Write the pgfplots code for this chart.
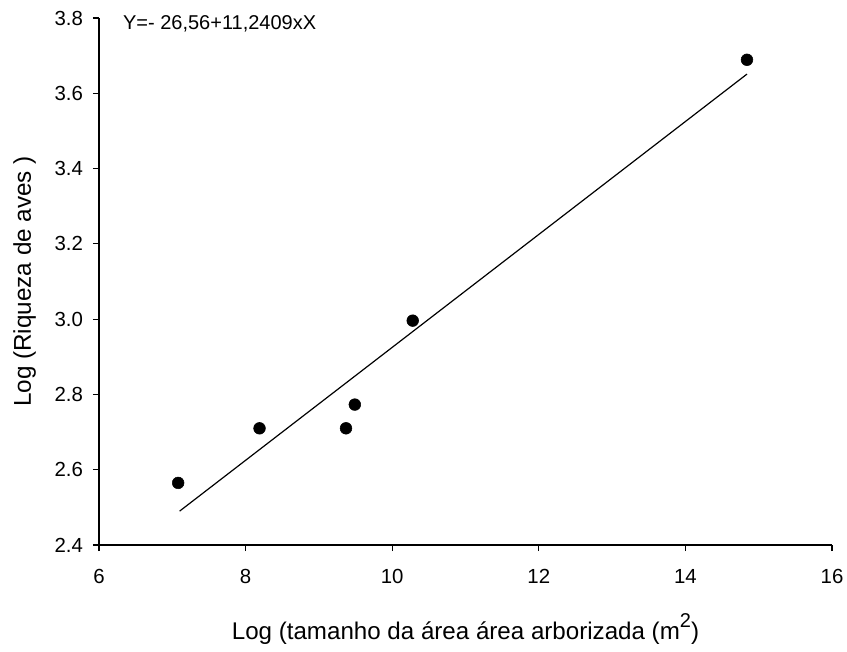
\documentclass[border=0pt]{standalone}
\usepackage{pgfplots}
\pgfplotsset{compat=1.18}
\usepackage{fontspec}
\setmainfont{Liberation Sans}
\begin{document}
\begin{tikzpicture}
\path[use as bounding box] (-74.25pt,-79.5pt) rectangle (561pt,408.75pt);
\begin{axis}[
  at={(0,0)}, anchor=south west,
  scale only axis,
  width=549.75pt, height=395.25pt,
  xmin=6, xmax=16, ymin=2.4, ymax=3.8,
  xtick={6,8,...,16},
  ytick={2.4,2.6,...,3.8},
  axis lines=left,
  axis line style={-, line width=0.9pt},
  tick style={black, line width=0.9pt},
  tick align=outside,
  major tick length=4.5pt,
  xticklabel style={/pgf/number format/fixed, yshift=-10pt},
  yticklabel style={/pgf/number format/fixed, /pgf/number format/fixed zerofill, /pgf/number format/precision=1, xshift=-4pt},
  /pgf/number format/assume math mode=true,
  ticklabel style={font=\fontsize{15.3}{18}\selectfont},
  xlabel={Log (tamanho da área área arborizada (m\raisebox{9.5pt}{\fontsize{15}{15}\selectfont 2})},
  ylabel={Log (Riqueza de aves )},
  xlabel style={font=\fontsize{18.1}{21}\selectfont, at={(axis description cs:0.5,0)}, anchor=base, yshift=-71pt},
  ylabel style={font=\fontsize{18.2}{21}\selectfont, at={(axis description cs:0,0.5)}, anchor=base, yshift=51pt},
  clip=false,
]
\addplot[only marks, mark=*, mark size=4.4pt, black] coordinates {
  (7.08,2.565) (8.19,2.71) (9.37,2.71) (9.49,2.773) (10.28,2.996) (14.84,3.689)
};
\addplot[black, line width=0.9pt] coordinates {(7.1,2.49) (14.84,3.651)};
\node[anchor=west, inner sep=0pt, font=\fontsize{15}{17}\selectfont] at (axis cs:6.325,3.785) {Y=- 26,56+11,2409xX};
\end{axis}
\end{tikzpicture}
\end{document}
